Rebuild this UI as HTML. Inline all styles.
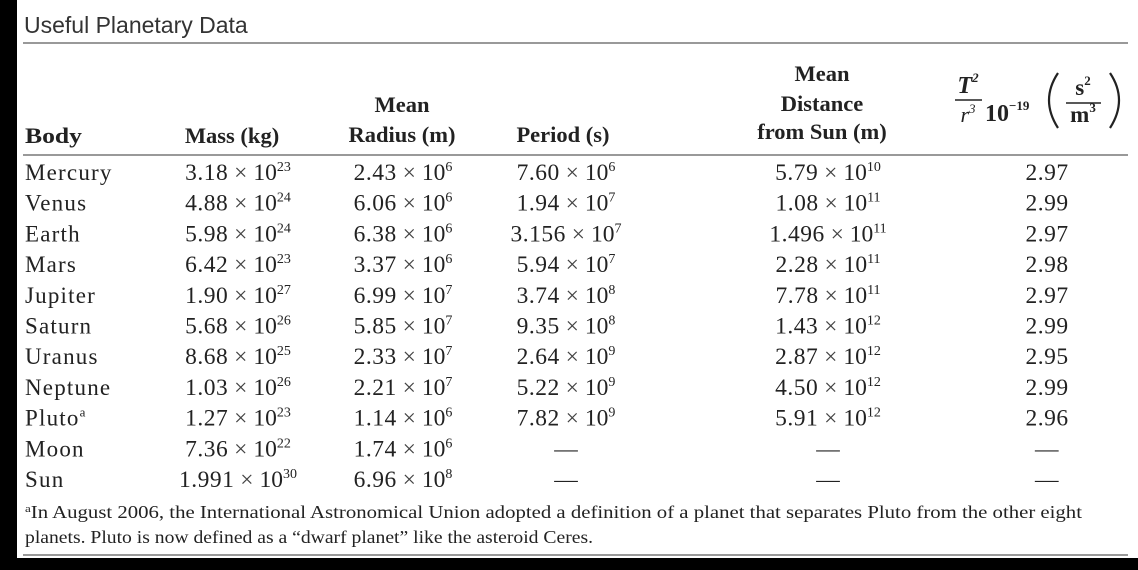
<!DOCTYPE html>
<html><head><meta charset="utf-8"><style>
html,body{margin:0;padding:0;background:#000;}
svg{display:block;}
text{font-family:"Liberation Serif",serif;fill:#222;}
</style></head><body>
<svg id="tbl" width="1138" height="570" xmlns="http://www.w3.org/2000/svg">
<rect x="17" y="0" width="1121" height="558" fill="#fff"/>
<text x="24" y="33" style="font-family:'Liberation Sans',sans-serif;font-size:23px;fill:#333">Useful Planetary Data</text>
<line x1="23" y1="43" x2="1128" y2="43" stroke="#999" stroke-width="2"/>
<line x1="23" y1="155" x2="1128" y2="155" stroke="#999" stroke-width="2"/>
<line x1="23" y1="555" x2="1128" y2="555" stroke="#999" stroke-width="2"/>
<g font-weight="bold" font-size="22.5">
<text x="25" y="143" textLength="57" lengthAdjust="spacingAndGlyphs">Body</text>
<text x="232" y="143" text-anchor="middle">Mass (kg)</text>
<text x="402" y="112" text-anchor="middle">Mean</text>
<text x="402" y="142" text-anchor="middle">Radius (m)</text>
<text x="563" y="142" text-anchor="middle">Period (s)</text>
<text x="822" y="81" text-anchor="middle">Mean</text>
<text x="822" y="111" text-anchor="middle">Distance</text>
<text x="822" y="139" text-anchor="middle">from Sun (m)</text>
</g>
<g>
<text x="968" y="93" text-anchor="middle" font-size="24" font-style="italic" font-weight="bold">T<tspan font-size="13" dy="-11">2</tspan></text>
<line x1="955" y1="100" x2="982" y2="100" stroke="#222" stroke-width="1.4"/>
<text x="968" y="122" text-anchor="middle" font-size="22" font-style="italic">r<tspan font-size="13" dy="-9">3</tspan></text>
<text x="985" y="121" font-size="24" font-weight="bold">10<tspan font-size="13" dy="-11">−19</tspan></text>
<path d="M1058 73 Q1040 100 1058 128" fill="none" stroke="#222" stroke-width="2.2"/>
<path d="M1110 73 Q1128 100 1110 128" fill="none" stroke="#222" stroke-width="2.2"/>
<text x="1083" y="95" text-anchor="middle" font-size="23" font-weight="bold">s<tspan font-size="13" dy="-10">2</tspan></text>
<line x1="1066" y1="103" x2="1101" y2="103" stroke="#222" stroke-width="1.4"/>
<text x="1083" y="122" text-anchor="middle" font-size="23" font-weight="bold">m<tspan font-size="13" dy="-10">3</tspan></text>
</g>
<g id="rows"></g>
<text x="25" y="518" font-size="17.5" textLength="1057" lengthAdjust="spacingAndGlyphs"><tspan font-size="11" dy="-6">a</tspan><tspan dy="6">In August 2006, the International Astronomical Union adopted a definition of a planet that separates Pluto from the other eight</tspan></text>
<text x="25" y="543" font-size="17.5" textLength="568" lengthAdjust="spacingAndGlyphs">planets. Pluto is now defined as a “dwarf planet” like the asteroid Ceres.</text>
</svg>
<script>
const bodies=["Mercury","Venus","Earth","Mars","Jupiter","Saturn","Uranus","Neptune","Pluto","Moon","Sun"];
const massMant=["3.18","4.88","5.98","6.42","1.90","5.68","8.68","1.03","1.27","7.36","1.991"];
const massExp=["23","24","24","23","27","26","25","26","23","22","30"];
const radMant=["2.43","6.06","6.38","3.37","6.99","5.85","2.33","2.21","1.14","1.74","6.96"];
const radExp=["6","6","6","6","7","7","7","7","6","6","8"];
const perMant=["7.60","1.94","3.156","5.94","3.74","9.35","2.64","5.22","7.82","",""];
const perExp=["6","7","7","7","8","8","9","9","9","",""];
const distMant=["5.79","1.08","1.496","2.28","7.78","1.43","2.87","4.50","5.91","",""];
const distExp=["10","11","11","11","11","12","12","12","12","",""];
const ratio=["2.97","2.99","2.97","2.98","2.97","2.99","2.95","2.99","2.96","",""];
const NS="http://www.w3.org/2000/svg";
const g=document.getElementById('rows');
function sci(x,y,m,e,name){
  const t=document.createElementNS(NS,'text');
  t.setAttribute('x',x);t.setAttribute('y',y);t.setAttribute('text-anchor','middle');t.setAttribute('font-size','23.5');
  
  
  if(m===""){t.textContent="—";}
  else{
    const a=document.createElementNS(NS,'tspan');a.setAttribute('letter-spacing','0.5');a.textContent=m;t.appendChild(a);
    const b=document.createElementNS(NS,'tspan');b.setAttribute('fill','#444');b.textContent=" × ";t.appendChild(b);
    const c=document.createElementNS(NS,'tspan');c.textContent="10";t.appendChild(c);
    const s=document.createElementNS(NS,'tspan');s.setAttribute('font-size','14');s.setAttribute('dy','-9');s.textContent=e;t.appendChild(s);
  }
  g.appendChild(t);
}
bodies.forEach((b,i)=>{
  const y=180+30.7*i;
  const n=document.createElementNS(NS,'text');
  n.setAttribute('x',25);n.setAttribute('y',y);n.setAttribute('font-size','23');
  n.setAttribute('letter-spacing','1.2');
  
  
  n.textContent=b;
  if(b==="Pluto"){const s=document.createElementNS(NS,'tspan');s.setAttribute('font-size','13');s.setAttribute('dy','-9');s.textContent="a";n.appendChild(s);}
  g.appendChild(n);
  sci(238,y,massMant[i],massExp[i],'mass-cell');
  sci(403,y,radMant[i],radExp[i],'radius-cell');
  sci(566,y,perMant[i],perExp[i],'period-cell');
  sci(828,y,distMant[i],distExp[i],'distance-cell');
  const r=document.createElementNS(NS,'text');
  r.setAttribute('x',1047);r.setAttribute('y',y);r.setAttribute('text-anchor','middle');r.setAttribute('font-size','23.5');
  r.setAttribute('letter-spacing','0.5');
  
  
  r.textContent=ratio[i]===""?"—":ratio[i];
  g.appendChild(r);
});
</script>
</body></html>
